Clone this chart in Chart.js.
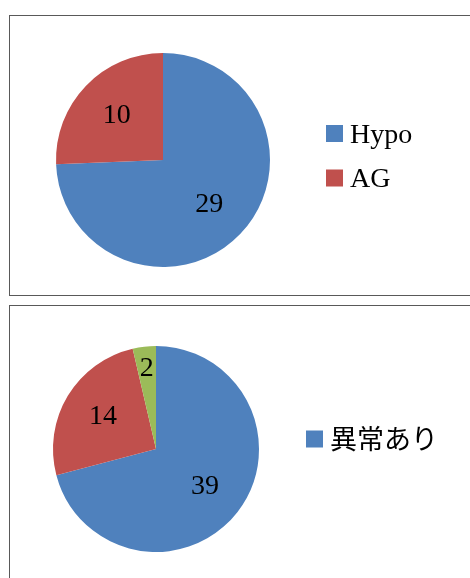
<!DOCTYPE html>
<html>
<head>
<meta charset="utf-8">
<script src="https://cdn.jsdelivr.net/npm/chart.js@4"></script>
<style>
  html, body { margin: 0; padding: 0; background: #fff; overflow: hidden; width: 470px; height: 578px; }
  .panel { position: absolute; left: 9px; width: 480px; border: 1px solid #595959; background: #fff; }
  #panel-top { top: 15px; height: 279px; }
  #panel-bottom { top: 305px; height: 300px; }
  canvas { position: absolute; left: 0; top: 0; }
</style>
</head>
<body>
<div class="panel" id="panel-top"><canvas id="chart-top" width="460" height="278"></canvas></div>
<div class="panel" id="panel-bottom"><canvas id="chart-bottom" width="460" height="272"></canvas></div>
<script>
const topLabels = ["Hypo", "AG"];
const topValues = [29, 10];
const topColors = ["#4f81bd", "#c0504d"];

const bottomLabels = ["異常あり", "", ""];
const bottomValues = [39, 14, 2];
const bottomColors = ["#4f81bd", "#c0504d", "#9bbb59"];

// value labels inside each slice
const sliceLabels = {
    id: 'sliceLabels',
    afterDatasetsDraw(chart) {
        const ctx = chart.ctx;
        const meta = chart.getDatasetMeta(0);
        const values = chart.data.datasets[0].data;
        ctx.save();
        ctx.font = '28px "Liberation Serif", serif';
        ctx.fillStyle = '#000';
        ctx.textAlign = 'center';
        ctx.textBaseline = 'middle';
        meta.data.forEach((arc, i) => {
            const p = arc.getProps(['x', 'y', 'startAngle', 'endAngle', 'outerRadius']);
            const mid = (p.startAngle + p.endAngle) / 2;
            const f = (p.endAngle - p.startAngle) < 0.5 ? 0.79 : 0.6;
            ctx.fillText(values[i], p.x + Math.cos(mid) * p.outerRadius * f, p.y + Math.sin(mid) * p.outerRadius * f);
        });
        ctx.restore();
    }
};

// legend drawn to the right of the pie
const sideLegend = {
    id: 'sideLegend',
    afterDraw(chart, args, opts) {
        const ctx = chart.ctx;
        const colors = chart.data.datasets[0].backgroundColor;
        ctx.save();
        ctx.font = opts.font;
        ctx.textBaseline = opts.baseline;
        for (let i = 0; i < opts.count; i++) {
            const cy = opts.y + i * opts.gap;
            ctx.fillStyle = colors[i];
            ctx.fillRect(opts.x, cy - opts.box / 2, opts.box, opts.box);
            ctx.fillStyle = '#000';
            ctx.fillText(chart.data.labels[i], opts.x + opts.box + 7, cy + opts.textDy);
        }
        ctx.restore();
    }
};

const makePie = function (id, labels, values, colors, padding, legendOpts) {
    return new Chart(document.getElementById(id), {
        type: 'pie',
        data: {
            labels: labels,
            datasets: [{
                data: values,
                backgroundColor: colors,
                borderWidth: 0,
                hoverOffset: 0
            }]
        },
        options: {
            responsive: false,
            animation: false,
            events: [],
            layout: { padding: padding },
            plugins: {
                legend: { display: false },
                tooltip: { enabled: false },
                sideLegend: legendOpts
            }
        },
        plugins: [sliceLabels, sideLegend]
    });
}

makePie('chart-top', topLabels, topValues, topColors,
    { left: 46, right: 200, top: 37, bottom: 27 },
    { x: 316, y: 117.5, gap: 44.5, box: 17, count: 2, font: '28px "Liberation Serif", serif', baseline: 'alphabetic', textDy: 9 });

makePie('chart-bottom', bottomLabels, bottomValues, bottomColors,
    { left: 43, right: 211, top: 40, bottom: 26 },
    { x: 296, y: 133, gap: 0, box: 17, count: 1, font: '27px "Noto Sans CJK JP", sans-serif', baseline: 'middle', textDy: 0 });
</script>
</body>
</html>
